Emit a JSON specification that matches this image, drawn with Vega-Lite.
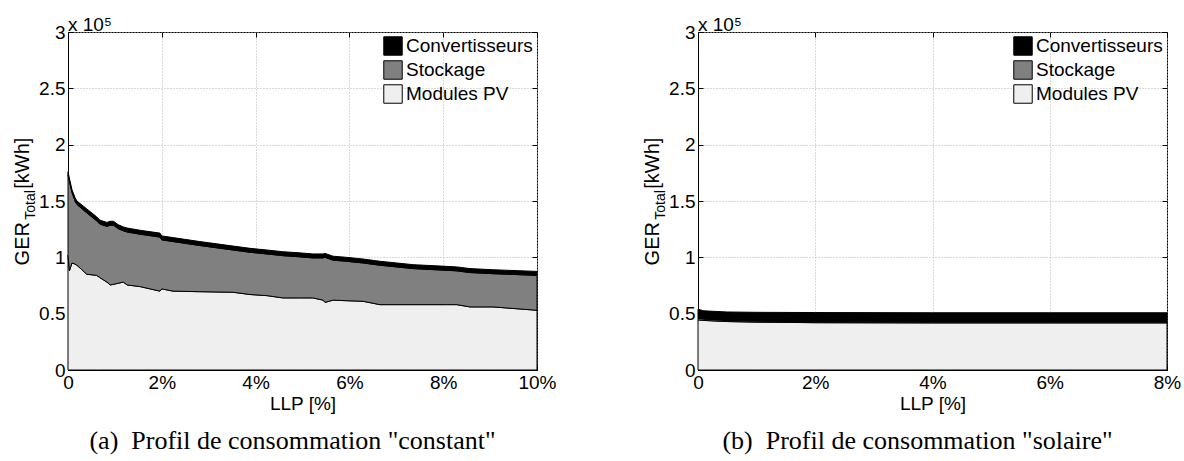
{
  "$schema": "https://vega.github.io/schema/vega-lite/v6.json",
  "padding": {"left": 12, "top": 15, "right": 0, "bottom": 0},
  "spacing": 85,
  "resolve": {"scale": {"color": "independent"}, "legend": {"color": "independent"}},
  "hconcat": [
    {
      "width": 469,
      "height": 338,
      "title": {"text": "(a)\u00a0 Profil de consommation \"constant\"", "orient": "bottom", "anchor": "middle", "frame": "group", "dx": -10, "offset": 15},
      "resolve": {"scale": {"x": "independent", "y": "independent"}},
      "layer": [
        {
          "data": {"values": [
            {"llp": 0, "pv": 102000, "stock_top": 173500, "total": 176000},
            {"llp": 0.03, "pv": 88000, "stock_top": 167500, "total": 170000},
            {"llp": 0.085, "pv": 95000, "stock_top": 157500, "total": 160000},
            {"llp": 0.15, "pv": 94000, "stock_top": 150000, "total": 153000},
            {"llp": 0.19, "pv": 93000, "stock_top": 147000, "total": 150000},
            {"llp": 0.4, "pv": 85000, "stock_top": 139500, "total": 143000},
            {"llp": 0.61, "pv": 84000, "stock_top": 132500, "total": 136000},
            {"llp": 0.68, "pv": 82000, "stock_top": 129500, "total": 133000},
            {"llp": 0.83, "pv": 78000, "stock_top": 127500, "total": 131000},
            {"llp": 0.9, "pv": 75500, "stock_top": 128500, "total": 132000},
            {"llp": 0.97, "pv": 76000, "stock_top": 128500, "total": 132000},
            {"llp": 1.07, "pv": 77000, "stock_top": 125500, "total": 129000},
            {"llp": 1.18, "pv": 78000, "stock_top": 123500, "total": 127000},
            {"llp": 1.26, "pv": 75500, "stock_top": 122500, "total": 126000},
            {"llp": 1.54, "pv": 74000, "stock_top": 120500, "total": 124000},
            {"llp": 1.96, "pv": 70000, "stock_top": 118000, "total": 121500},
            {"llp": 2.0, "pv": 72000, "stock_top": 115500, "total": 119000},
            {"llp": 2.24, "pv": 70000, "stock_top": 114000, "total": 117500},
            {"llp": 2.81, "pv": 69500, "stock_top": 110500, "total": 114000},
            {"llp": 3.52, "pv": 69000, "stock_top": 106500, "total": 110000},
            {"llp": 3.88, "pv": 67000, "stock_top": 104500, "total": 108000},
            {"llp": 4.24, "pv": 66000, "stock_top": 103000, "total": 106500},
            {"llp": 4.58, "pv": 64000, "stock_top": 101500, "total": 105000},
            {"llp": 4.93, "pv": 64000, "stock_top": 100500, "total": 104000},
            {"llp": 5.22, "pv": 64000, "stock_top": 99500, "total": 103000},
            {"llp": 5.44, "pv": 62000, "stock_top": 99500, "total": 103000},
            {"llp": 5.48, "pv": 60000, "stock_top": 100000, "total": 103500},
            {"llp": 5.65, "pv": 62000, "stock_top": 97500, "total": 101000},
            {"llp": 5.94, "pv": 61500, "stock_top": 96500, "total": 100000},
            {"llp": 6.29, "pv": 61000, "stock_top": 95000, "total": 98500},
            {"llp": 6.65, "pv": 58000, "stock_top": 93000, "total": 96500},
            {"llp": 7.36, "pv": 58000, "stock_top": 90000, "total": 93500},
            {"llp": 8.07, "pv": 58000, "stock_top": 88500, "total": 92000},
            {"llp": 8.29, "pv": 58000, "stock_top": 88000, "total": 91500},
            {"llp": 8.57, "pv": 56000, "stock_top": 86500, "total": 90000},
            {"llp": 9.06, "pv": 56000, "stock_top": 85500, "total": 89000},
            {"llp": 10.0, "pv": 53000, "stock_top": 84000, "total": 87500}
          ]},
          "encoding": {
            "x": {"field": "llp", "type": "quantitative", "scale": {"domain": [0, 10], "nice": false},
              "axis": {"values": [0, 2, 4, 6, 8, 10], "labelExpr": "datum.value == 0 ? '0' : datum.value + '%'", "title": "LLP [%]", "titlePadding": 2}}
          },
          "layer": [
            {"mark": {"type": "area", "stroke": "black", "strokeWidth": 1, "opacity": 1},
             "encoding": {
               "y": {"field": "pv", "type": "quantitative", "scale": {"domain": [0, 300000], "nice": false},
                 "axis": {"values": [0, 50000, 100000, 150000, 200000, 250000, 300000], "labelExpr": "format(datum.value / 100000, '~g')", "title": "GER\u00a0\u00a0\u00a0\u00a0\u00a0\u00a0[kWh]", "titleFontSize": 20, "titlePadding": 6}},
               "color": {"datum": "Modules PV", "type": "nominal",
                 "scale": {"domain": ["Convertisseurs", "Stockage", "Modules PV"], "range": ["#000000", "#808080", "#efefef"]},
                 "legend": {"title": null}}
             }},
            {"mark": {"type": "area", "stroke": "black", "strokeWidth": 1, "opacity": 1},
             "encoding": {"y": {"field": "stock_top", "type": "quantitative"}, "y2": {"field": "pv"}, "color": {"datum": "Stockage", "type": "nominal"}}},
            {"mark": {"type": "area", "stroke": "black", "strokeWidth": 1, "opacity": 1},
             "encoding": {"y": {"field": "total", "type": "quantitative"}, "y2": {"field": "stock_top"}, "color": {"datum": "Convertisseurs", "type": "nominal"}}}
          ]
        },
        {
          "encoding": {
            "x": {"field": "llp", "type": "quantitative", "scale": {"domain": [0, 10], "nice": false},
              "axis": {"orient": "top", "values": [0, 2, 4, 6, 8, 10], "labels": false, "title": null, "grid": false, "domain": false}},
            "y": {"field": "kwh", "type": "quantitative", "scale": {"domain": [0, 300000], "nice": false},
              "axis": {"orient": "right", "values": [0, 50000, 100000, 150000, 200000, 250000, 300000], "labels": false, "title": null, "grid": false, "domain": false}}
          },
          "layer": [
            {"data": {"values": [{"t": "Total", "llp": 0, "kwh": 146500}]},
             "mark": {"type": "text", "angle": 270, "align": "center", "baseline": "alphabetic", "fontSize": 14, "font": "Liberation Sans", "fill": "black", "dy": -33},
             "encoding": {"text": {"field": "t", "type": "nominal"}}},
            {"data": {"values": [{"t": "x 10\u2075", "llp": 0, "kwh": 300000}]},
             "mark": {"type": "text", "align": "left", "baseline": "alphabetic", "fontSize": 19, "font": "Liberation Sans", "fill": "black", "dy": -1.5},
             "encoding": {"text": {"field": "t", "type": "nominal"}}}
          ]
        }
      ]
    },
    {
      "width": 469,
      "height": 338,
      "title": {"text": "(b)\u00a0 Profil de consommation \"solaire\"", "orient": "bottom", "anchor": "middle", "frame": "group", "dx": -15, "offset": 15},
      "resolve": {"scale": {"x": "independent", "y": "independent"}},
      "layer": [
        {
          "data": {"values": [
            {"llp": 0, "pv": 44500, "stock_top": 46000, "total": 54000},
            {"llp": 0.1, "pv": 44000, "stock_top": 45200, "total": 52500},
            {"llp": 0.5, "pv": 43000, "stock_top": 44000, "total": 51500},
            {"llp": 1.0, "pv": 42500, "stock_top": 43400, "total": 51200},
            {"llp": 2.0, "pv": 42000, "stock_top": 42800, "total": 51000},
            {"llp": 4.0, "pv": 41800, "stock_top": 42600, "total": 50800},
            {"llp": 6.0, "pv": 41800, "stock_top": 42600, "total": 50800},
            {"llp": 8.0, "pv": 41800, "stock_top": 42600, "total": 50800}
          ]},
          "encoding": {
            "x": {"field": "llp", "type": "quantitative", "scale": {"domain": [0, 8], "nice": false},
              "axis": {"values": [0, 2, 4, 6, 8], "labelExpr": "datum.value == 0 ? '0' : datum.value + '%'", "title": "LLP [%]", "titlePadding": 2}}
          },
          "layer": [
            {"mark": {"type": "area", "stroke": "black", "strokeWidth": 1, "opacity": 1},
             "encoding": {
               "y": {"field": "pv", "type": "quantitative", "scale": {"domain": [0, 300000], "nice": false},
                 "axis": {"values": [0, 50000, 100000, 150000, 200000, 250000, 300000], "labelExpr": "format(datum.value / 100000, '~g')", "title": "GER\u00a0\u00a0\u00a0\u00a0\u00a0\u00a0[kWh]", "titleFontSize": 20, "titlePadding": 6}},
               "color": {"datum": "Modules PV", "type": "nominal",
                 "scale": {"domain": ["Convertisseurs", "Stockage", "Modules PV"], "range": ["#000000", "#808080", "#efefef"]},
                 "legend": {"title": null}}
             }},
            {"mark": {"type": "area", "stroke": "black", "strokeWidth": 1, "opacity": 1},
             "encoding": {"y": {"field": "stock_top", "type": "quantitative"}, "y2": {"field": "pv"}, "color": {"datum": "Stockage", "type": "nominal"}}},
            {"mark": {"type": "area", "stroke": "black", "strokeWidth": 1, "opacity": 1},
             "encoding": {"y": {"field": "total", "type": "quantitative"}, "y2": {"field": "stock_top"}, "color": {"datum": "Convertisseurs", "type": "nominal"}}}
          ]
        },
        {
          "encoding": {
            "x": {"field": "llp", "type": "quantitative", "scale": {"domain": [0, 8], "nice": false},
              "axis": {"orient": "top", "values": [0, 2, 4, 6, 8], "labels": false, "title": null, "grid": false, "domain": false}},
            "y": {"field": "kwh", "type": "quantitative", "scale": {"domain": [0, 300000], "nice": false},
              "axis": {"orient": "right", "values": [0, 50000, 100000, 150000, 200000, 250000, 300000], "labels": false, "title": null, "grid": false, "domain": false}}
          },
          "layer": [
            {"data": {"values": [{"t": "Total", "llp": 0, "kwh": 146500}]},
             "mark": {"type": "text", "angle": 270, "align": "center", "baseline": "alphabetic", "fontSize": 14, "font": "Liberation Sans", "fill": "black", "dy": -33},
             "encoding": {"text": {"field": "t", "type": "nominal"}}},
            {"data": {"values": [{"t": "x 10\u2075", "llp": 0, "kwh": 300000}]},
             "mark": {"type": "text", "align": "left", "baseline": "alphabetic", "fontSize": 19, "font": "Liberation Sans", "fill": "black", "dy": -1.5},
             "encoding": {"text": {"field": "t", "type": "nominal"}}}
          ]
        }
      ]
    }
  ],
  "config": {
    "font": "Liberation Sans",
    "background": "white",
    "view": {"stroke": "black", "strokeWidth": 1},
    "title": {"font": "Liberation Serif", "fontSize": 26, "fontWeight": "normal", "color": "black"},
    "axis": {"labelFont": "Liberation Sans", "labelFontSize": 19, "labelColor": "black", "titleFont": "Liberation Sans", "titleFontSize": 19, "titleFontWeight": "normal", "titleColor": "black", "domainColor": "black", "tickColor": "black", "tickSize": -5, "labelPadding": 8, "grid": true, "gridColor": "#b4b4b4", "gridDash": [1, 2], "gridWidth": 1, "labelFlush": false, "labelOverlap": false},
    "legend": {"orient": "top-right", "offset": 4, "padding": 0, "symbolType": "square", "symbolSize": 340, "symbolStrokeColor": "black", "symbolStrokeWidth": 1, "symbolOpacity": 1, "labelFont": "Liberation Sans", "labelFontSize": 19, "labelColor": "black", "labelOffset": 3, "rowPadding": 0}
  }
}
